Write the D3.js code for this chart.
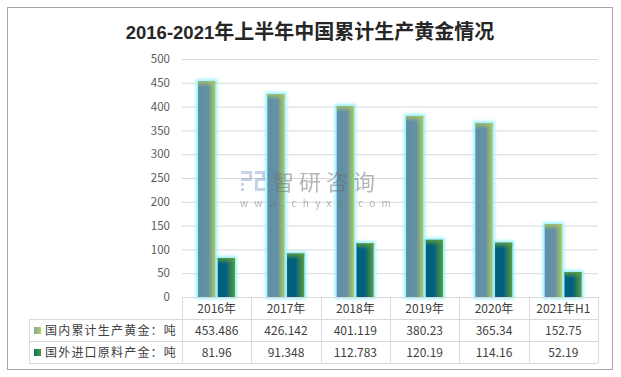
<!DOCTYPE html>
<html>
<head>
<meta charset="utf-8">
<script src="https://cdn.jsdelivr.net/npm/d3@7"></script>
<style>
  body { margin: 0; background: #fff; }
  text { font-family: "Noto Sans CJK SC", "Noto Sans", sans-serif; }
</style>
</head>
<body>
<div id="chart"></div>
<script>
// Data
const categories = ["2016年", "2017年", "2018年", "2019年", "2020年", "2021年H1"];
const seriesNames = ["国内累计生产黄金：吨", "国外进口原料产金：吨"];
const domestic = [453.486, 426.142, 401.119, 380.23, 365.34, 152.75];
const imported = [81.96, 91.348, 112.783, 120.19, 114.16, 52.19];
const yTicks = [0, 50, 100, 150, 200, 250, 300, 350, 400, 450, 500];

const width = 621;
const height = 377;
const plot = { left: 182, right: 598, top: 59, bottom: 297 };
const rowH = 22;

const svg = d3.select("#chart")
    .append("svg")
    .attr("width", width)
    .attr("height", height);

// Gradients and glow
const defs = svg.append("defs");
function hGrad(id, stops) {
    const g = defs.append("linearGradient").attr("id", id);
    stops.forEach(s => g.append("stop").attr("offset", s[0]).attr("stop-color", s[1]).attr("stop-opacity", s[2] ?? 1));
    return g;
}
hGrad("g1", [["0%", "#5e8ea6"], ["60%", "#6592a4"], ["100%", "#b2ca5c"]]);
hGrad("g2", [["0%", "#035f80"], ["50%", "#06627c"], ["100%", "#5b9c3c"]]);
hGrad("t1", [["0%", "#a9c45e", 0.85], ["100%", "#a9c45e", 0]]).attr("x2", 0).attr("y2", 1);
hGrad("t2", [["0%", "#5f9c3e", 0.9], ["100%", "#5f9c3e", 0]]).attr("x2", 0).attr("y2", 1);
hGrad("l1", [["0%", "#7fa8a0"], ["100%", "#b4cc62"]]);
hGrad("l2", [["0%", "#106c72"], ["100%", "#4f9a42"]]);

const glow = defs.append("filter").attr("id", "glow")
    .attr("x", "-60%").attr("y", "-20%").attr("width", "220%").attr("height", "140%");
glow.append("feMorphology").attr("in", "SourceAlpha").attr("operator", "dilate").attr("radius", 2).attr("result", "d");
glow.append("feGaussianBlur").attr("in", "d").attr("stdDeviation", 1.8).attr("result", "b");
glow.append("feFlood").attr("flood-color", "#98f2ff");
glow.append("feComposite").attr("in2", "b").attr("operator", "in").attr("result", "c");
const merge = glow.append("feMerge");
merge.append("feMergeNode").attr("in", "c");
merge.append("feMergeNode").attr("in", "SourceGraphic");

// Outer frame
svg.append("rect")
    .attr("x", 7.5).attr("y", 7.5)
    .attr("width", 605).attr("height", 362)
    .attr("fill", "#fff").attr("stroke", "#a6a6a6");

// Title
const title = svg.append("text")
    .attr("x", 310).attr("y", 39)
    .attr("text-anchor", "middle")
    .attr("font-size", 20)
    .attr("fill", "#262626");
title.append("tspan")
    .attr("font-family", "'Liberation Sans', sans-serif")
    .attr("font-weight", "bold")
    .attr("font-size", 18.5)
    .text("2016-2021");
title.append("tspan")
    .attr("font-weight", "bold")
    .text("年上半年中国累计生产黄金情况");

// Scales
const x = d3.scaleBand()
    .domain(categories)
    .range([plot.left, plot.right]);

const xSub = d3.scaleBand()
    .domain([0, 1])
    .range([16, 53])
    .paddingInner(0.12);

const y = d3.scaleLinear()
    .domain([0, 500])
    .range([plot.bottom, plot.top]);

// Gridlines
svg.append("g")
    .attr("transform", `translate(${plot.left},0)`)
    .call(d3.axisLeft(y).tickValues(yTicks).tickSize(-(plot.right - plot.left)).tickFormat(""))
    .call(g => g.select(".domain").remove())
    .call(g => g.selectAll("line").attr("stroke", "#d9d9d9"));

// Y axis labels
svg.append("g")
    .attr("transform", `translate(${plot.left - 9},0)`)
    .call(d3.axisLeft(y).tickValues(yTicks).tickSize(0))
    .call(g => g.select(".domain").remove())
    .call(g => g.selectAll("text")
        .attr("font-size", 11.5)
        .attr("fill", "#595959")
        .attr("font-family", "'Open Sans', 'Noto Sans', sans-serif"));

// Bars
const series = [domestic, imported];
const fills = ["url(#g1)", "url(#g2)"];
const tints = ["url(#t1)", "url(#t2)"];
const barGroup = svg.append("g").attr("filter", "url(#glow)");
series.forEach((vals, si) => {
    barGroup.selectAll(`.bar${si}`)
        .data(vals)
        .enter()
        .append("rect")
        .attr("class", `bar${si}`)
        .attr("x", (d, i) => x(categories[i]) + xSub(si))
        .attr("width", xSub.bandwidth())
        .attr("y", d => y(d))
        .attr("height", d => y(0) - y(d))
        .attr("fill", fills[si]);
    // top tint
    svg.selectAll(`.tint${si}`)
        .data(vals)
        .enter()
        .append("rect")
        .attr("x", (d, i) => x(categories[i]) + xSub(si))
        .attr("width", xSub.bandwidth())
        .attr("y", d => y(d))
        .attr("height", 6)
        .attr("fill", tints[si]);
});

// Watermark (on top of the bars, semi-transparent)
const wm = svg.append("g").attr("opacity", 0.5);
const logo = wm.append("g").attr("fill", "#8fa6cf");
[[241, 171, 11, 3], [249, 171, 3, 10], [241, 178, 11, 3], [241, 183, 3, 3], [241, 188, 3, 3],
 [255, 171, 10, 3], [262, 171, 3, 10], [255, 178, 10, 3], [255, 178, 3, 13], [255, 188, 10, 3]]
    .forEach(r => logo.append("rect").attr("x", r[0]).attr("y", r[1]).attr("width", r[2]).attr("height", r[3]));
wm.append("text")
    .attr("x", 272).attr("y", 190)
    .attr("font-size", 22)
    .attr("fill", "#6e6e6e")
    .attr("letter-spacing", 5)
    .text("智研咨询");
wm.append("text")
    .attr("x", 240).attr("y", 207)
    .attr("font-size", 10)
    .attr("fill", "#6e6e6e")
    .attr("letter-spacing", 6.3)
    .text("www.chyxx.com");

// Data table
const table = svg.append("g").attr("stroke", "#d9d9d9").attr("fill", "none");
const tTop = plot.bottom;
const tBottom = tTop + rowH * 3;
table.append("line")
    .attr("x1", plot.left).attr("x2", plot.right)
    .attr("y1", tTop + 0.5).attr("y2", tTop + 0.5);
[1, 2, 3].forEach(r => {
    table.append("line")
        .attr("x1", 29).attr("x2", plot.right)
        .attr("y1", tTop + rowH * r + 0.5).attr("y2", tTop + rowH * r + 0.5);
});
table.append("line")
    .attr("x1", 29.5).attr("x2", 29.5)
    .attr("y1", tTop + rowH).attr("y2", tBottom);
categories.concat([null]).forEach((c, i) => {
    const xx = c ? x(c) : plot.right;
    table.append("line")
        .attr("x1", Math.round(xx) + 0.5).attr("x2", Math.round(xx) + 0.5)
        .attr("y1", tTop).attr("y2", tBottom);
});

// Header labels
svg.selectAll(".cat")
    .data(categories)
    .enter()
    .append("text")
    .attr("x", d => x(d) + x.bandwidth() / 2)
    .attr("y", tTop + 16)
    .attr("text-anchor", "middle")
    .attr("font-size", 12)
    .attr("fill", "#404040")
    .text(d => d);

// Row values and legend
const legendFills = ["url(#l1)", "url(#l2)"];
series.forEach((vals, si) => {
    const rowY = tTop + rowH * (si + 1);
    svg.append("rect")
        .attr("x", 34).attr("y", rowY + 8)
        .attr("width", 7).attr("height", 7)
        .attr("fill", legendFills[si]);
    svg.append("text")
        .attr("x", 45).attr("y", rowY + 16)
        .attr("font-size", 12)
        .attr("letter-spacing", 1.2)
        .attr("fill", "#404040")
        .text(seriesNames[si]);
    svg.selectAll(`.val${si}`)
        .data(vals)
        .enter()
        .append("text")
        .attr("x", (d, i) => x(categories[i]) + x.bandwidth() / 2)
        .attr("y", rowY + 16)
        .attr("text-anchor", "middle")
        .attr("font-size", 12)
        .attr("fill", "#404040")
        .text(d => String(d));
});
</script>
</body>
</html>
